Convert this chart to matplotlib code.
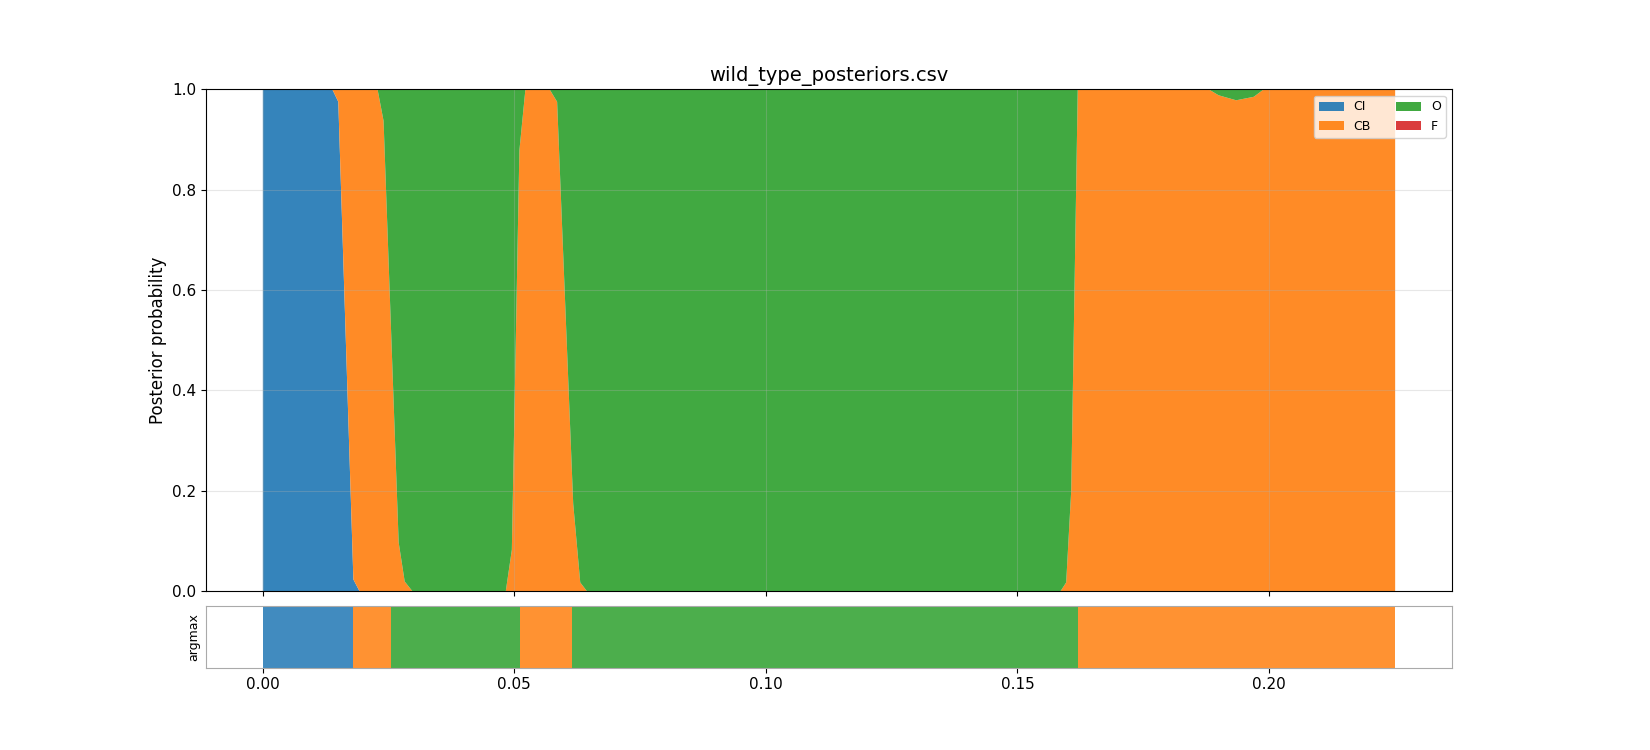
import matplotlib
matplotlib.use("Agg")
import matplotlib.pyplot as plt
import numpy as np

x = [0, 0.0138, 0.0150, 0.0180, 0.0192, 0.0228, 0.0240, 0.0270, 0.0282, 0.0297,
     0.0483, 0.0495, 0.0510, 0.0522, 0.0570, 0.0585, 0.0617, 0.0631, 0.0644,
     0.1586, 0.1597, 0.1607, 0.1620, 0.1880, 0.1900, 0.1935, 0.1970, 0.1990, 0.2251]
ci = [1, 1, 0.975, 0.023, 0, 0, 0, 0, 0, 0,
      0, 0, 0, 0, 0, 0, 0, 0, 0,
      0, 0, 0, 0, 0, 0, 0, 0, 0, 0]
ci_cb = [1, 1, 1, 1, 1, 1, 0.937, 0.097, 0.019, 0,
         0, 0.082, 0.878, 1, 1, 0.975, 0.174, 0.017, 0,
         0, 0.017, 0.2, 1, 1, 0.988, 0.978, 0.985, 1, 1]
cb = [a - b for a, b in zip(ci_cb, ci)]
o = [1 - a for a in ci_cb]
f = [0] * len(x)

labels = ["CI", "CB", "O", "F"]
colors = ["#1f77b4", "#ff7f0e", "#2ca02c", "#d62728"]

seg_start = [0, 0.0180, 0.0255, 0.0512, 0.0614, 0.1620]
seg_end = [0.0180, 0.0255, 0.0512, 0.0614, 0.1620, 0.2251]
seg_cls = [0, 1, 2, 1, 2, 1]

fig = plt.figure(figsize=(16.5, 7.5), dpi=100)
ax = fig.add_axes([0.125, 0.212, 0.755, 0.669])
ax2 = fig.add_axes([0.125, 0.110, 0.755, 0.082], sharex=ax)

ax.stackplot(x, ci, cb, o, f, labels=labels, colors=colors, alpha=0.9)
ax.set_ylim(0, 1)
ax.set_ylabel("Posterior probability", fontsize=12)
ax.set_title("wild_type_posteriors.csv", fontsize=14)
ax.grid(True, alpha=0.3)
ax.legend(loc="upper right", ncol=2, fontsize=9)
ax.tick_params(labelbottom=False, labelsize=11)

for s, e, c in zip(seg_start, seg_end, seg_cls):
    ax2.axvspan(s, e, color=colors[c], alpha=0.85, lw=0)
ax2.set_yticks([])
ax2.set_ylabel("argmax", fontsize=9)
ax2.tick_params(labelsize=11)
for sp in ax2.spines.values():
    sp.set_color("#aaaaaa")
ax.set_xlim(-0.01125, 0.2364)

fig.savefig("out.png", dpi=100)
